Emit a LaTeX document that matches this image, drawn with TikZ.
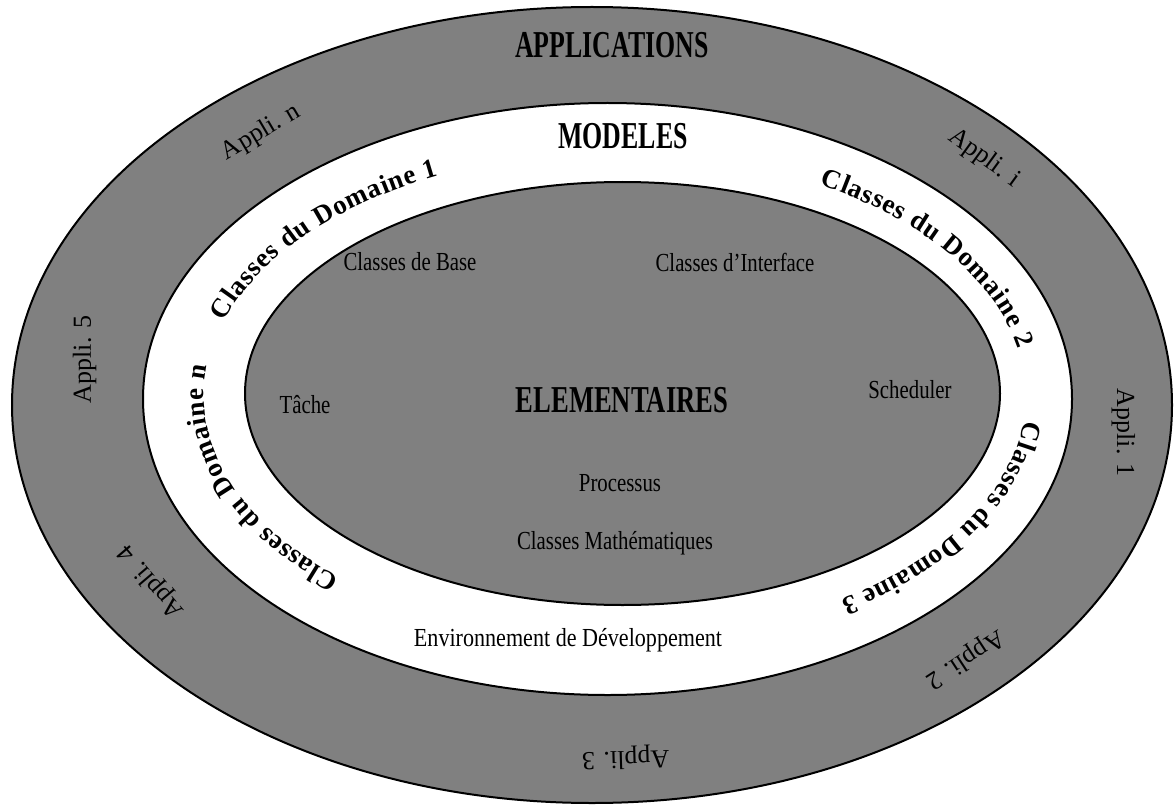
\documentclass[tikz,border=0pt]{standalone}
\usepackage{fontspec}
\usepackage{graphicx}
\setmainfont{Liberation Serif}
\usetikzlibrary{decorations.text}
\colorlet{dither}{black!50}
\tikzset{
  ring/.style={draw, line width=2pt},
  band/.style={ring, fill=dither},
  title/.style={font=\bfseries\fontsize{38}{38}\selectfont, inner sep=0pt},
  layer/.style={font=\fontsize{26}{26}\selectfont, inner sep=0pt},
  appli/.style={font=\fontsize{26}{26}\selectfont, inner sep=0pt}
}
\newcommand{\domfont}{\bfseries\fontsize{27}{27}\selectfont\kern0.8pt}
\newcommand{\narrow}[2]{\scalebox{#1}[1]{#2}}
% #1 centre, #2 x radius, #3 y radius, #4 middle angle, #5 span, #6 text
\newcommand{\ringlabel}[6]{%
  \path[decorate, decoration={text along path, text align=center, text={#6}}]
    ([shift={({#4+#5/2}:#2 and #3)}]#1)
    arc[start angle={#4+#5/2}, end angle={#4-#5/2}, x radius=#2, y radius=#3];}

\begin{document}
\begin{tikzpicture}[x=1pt, y=1pt]
  \useasboundingbox (0,0) rectangle (1175,-805);
  \coordinate (c-outer) at (592,-405);
  \coordinate (c-white) at (607.5,-399);
  \coordinate (c-inner) at (622.5,-393.5);
  \coordinate (c-appli) at (603,-402);
  \coordinate (c-dom) at (615,-396);

  \draw[band] (c-outer) ellipse[x radius=580, y radius=398];
  \draw[ring, fill=white] (c-white) ellipse[x radius=464.5, y radius=296];
  \draw[band] (c-inner) ellipse[x radius=377.5, y radius=211.5];

  % applications
  \node[title] (apps) at (612,-45) {\narrow{0.68}{APPLICATIONS}};
  \foreach \nm/\ang/\rot in {n/131/131, i/43/43, 5/173/180, 1/-5/0, 2/-46/-46, 3/-87.5/-87.5, 4/210/210}{
    \pgfmathsetmacro{\tang}{atan2(-350*cos(\rot), 516*sin(\rot))}
    \node[appli, rotate=\tang, anchor=base] (appli-\nm)
      at ([shift={(\ang:516pt and 350pt)}]c-appli) {Appli. \nm};
  }

  % modeles
  \node[title] (modeles) at (623,-136) {\narrow{0.68}{MODELES}};
  \ringlabel{c-dom}{411pt}{244pt}{145}{100}{|\domfont|Classes du Domaine 1}
  \ringlabel{c-dom}{411pt}{244pt}{30}{100}{|\domfont|Classes du Domaine 2}
  \ringlabel{c-dom}{411pt}{244pt}{-26}{100}{|\domfont|Classes du Domaine 3}
  \ringlabel{c-dom}{411pt}{244pt}{197}{100}{|\domfont|Classes du Domaine n}
  \node[layer] (env) at (568,-640) {\narrow{0.85}{Environnement de Développement}};

  % elementaires
  \node[title] (elem) at (622,-400) {\narrow{0.70}{ELEMENTAIRES}};
  \node[layer] (base) at (410,-262) {\narrow{0.8}{Classes de Base}};
  \node[layer] (iface) at (735,-262) {\narrow{0.8}{Classes d'Interface}};
  \node[layer] (tache) at (305,-405) {\narrow{0.8}{Tâche}};
  \node[layer] (sched) at (910,-390) {\narrow{0.8}{Scheduler}};
  \node[layer] (proc) at (620,-483) {\narrow{0.8}{Processus}};
  \node[layer] (maths) at (615,-543) {\narrow{0.8}{Classes Mathématiques}};
\end{tikzpicture}
\end{document}
